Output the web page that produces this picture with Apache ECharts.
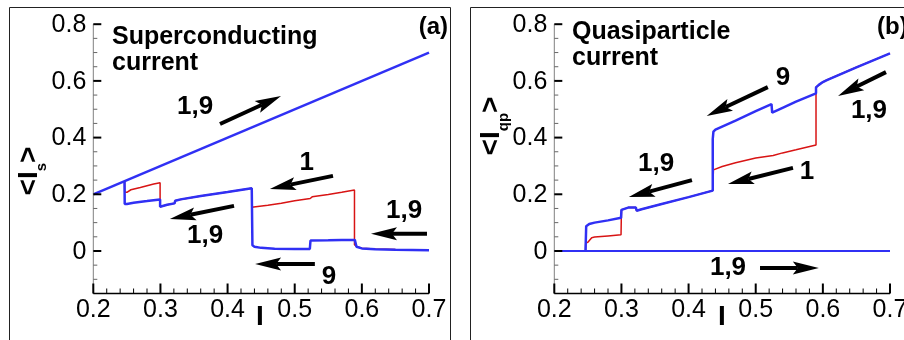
<!DOCTYPE html>
<html>
<head>
<meta charset="utf-8">
<script src="https://cdn.jsdelivr.net/npm/echarts@6/dist/echarts.min.js"></script>
<style>html,body{margin:0;padding:0;background:#fff;}#c{width:904px;height:340px;}</style>
</head>
<body>
<div id="c"></div>
<script>
// ---------- data ----------
const X_MIN = 0.2, X_MAX = 0.7, Y_MIN = -0.15, Y_MAX = 0.8;
const xTicks = [0.2, 0.3, 0.4, 0.5, 0.6, 0.7];
const yTicks = [0, 0.2, 0.4, 0.6, 0.8];
const yMinorTicks = [-0.15, -0.1, -0.05, 0.05, 0.1, 0.15, 0.25, 0.3, 0.35, 0.45, 0.5, 0.55, 0.65, 0.7, 0.75];
const xMinorTicks = [0.22, 0.24, 0.26, 0.28, 0.32, 0.34, 0.36, 0.38, 0.42, 0.44, 0.46, 0.48, 0.52, 0.54, 0.56, 0.58, 0.62, 0.64, 0.66, 0.68];

// Panel (a): superconducting current
const aUp19 = [[0.2, 0.2], [0.7, 0.7]];
const aDown9 = [[0.7,0.003],[0.65,0.004],[0.62,0.006],[0.60,0.009],[0.592,0.015],[0.5895,0.022],[0.5895,0.039],[0.57,0.039],[0.55,0.038],[0.5235,0.037],[0.5225,0.007],[0.50,0.007],[0.47,0.008],[0.45,0.011],[0.44,0.015],[0.437,0.02],[0.436,0.221],[0.40,0.208],[0.36,0.194],[0.33,0.182],[0.322,0.177],[0.321,0.168],[0.31,0.163],[0.308,0.159],[0.2995,0.156],[0.2995,0.182],[0.28,0.176],[0.26,0.170],[0.25,0.166],[0.2468,0.166],[0.2465,0.2465]];
const aDown1 = [[0.7,0.003],[0.65,0.005],[0.62,0.007],[0.60,0.01],[0.592,0.016],[0.589,0.022],[0.589,0.215],[0.57,0.207],[0.55,0.199],[0.526,0.191],[0.523,0.185],[0.50,0.177],[0.48,0.168],[0.46,0.161],[0.445,0.157],[0.436,0.154],[0.436,0.221],[0.40,0.208],[0.36,0.194],[0.33,0.182],[0.322,0.177],[0.321,0.168],[0.31,0.163],[0.308,0.159],[0.2995,0.156],[0.2995,0.241],[0.29,0.236],[0.28,0.230],[0.27,0.224],[0.256,0.216],[0.254,0.209],[0.25,0.207],[0.2468,0.208],[0.2465,0.2465]];

// Panel (b): quasiparticle current
const bUp19 = [[0.2, 0], [0.7, 0]];
const bDown9 = [[0.7,0.697],[0.65,0.648],[0.606,0.603],[0.6,0.596],[0.594,0.586],[0.5898,0.577],[0.5898,0.556],[0.56,0.527],[0.54,0.505],[0.5245,0.488],[0.5238,0.486],[0.5235,0.518],[0.50,0.493],[0.47,0.460],[0.45,0.439],[0.44,0.428],[0.437,0.421],[0.436,0.395],[0.436,0.213],[0.40,0.190],[0.36,0.166],[0.33,0.147],[0.3227,0.142],[0.3215,0.153],[0.31,0.153],[0.30,0.145],[0.2994,0.142],[0.2994,0.117],[0.28,0.108],[0.26,0.100],[0.252,0.095],[0.2475,0.087],[0.2468,0.082],[0.2465,0]];
const bDown1 = [[0.7,0.697],[0.65,0.648],[0.606,0.603],[0.6,0.596],[0.594,0.586],[0.5898,0.577],[0.5898,0.374],[0.56,0.357],[0.54,0.346],[0.526,0.337],[0.524,0.342],[0.50,0.328],[0.47,0.311],[0.45,0.298],[0.437,0.286],[0.436,0.213],[0.40,0.190],[0.36,0.166],[0.33,0.147],[0.3227,0.142],[0.3215,0.153],[0.31,0.153],[0.30,0.145],[0.2994,0.142],[0.2994,0.057],[0.28,0.053],[0.26,0.049],[0.2557,0.047],[0.254,0.04],[0.25,0.031],[0.2468,0.027],[0.2465,0]];

// annotation arrows [x1, y1, x2 (tip), y2 (tip)] in data units
const aArrows = [[0.3887,0.448,0.4796,0.547],[0.557,0.265,0.463,0.219],[0.4096,0.159,0.314,0.113],[0.697,0.061,0.6136,0.061],[0.530,-0.046,0.441,-0.046]];
const bArrows = [[0.518,0.578,0.427,0.476],[0.694,0.631,0.6226,0.547],[0.405,0.250,0.311,0.190],[0.5555,0.293,0.4587,0.236],[0.5064,-0.06,0.594,-0.06]];
// annotation labels
const aLabelText = ['1,9','1','1,9','1,9','9'];
const aLabelPos = [[0.3515,0.508],[0.518,0.310],[0.3664,0.053],[0.6628,0.141],[0.551,-0.092]];
const bLabelText = ['9','1,9','1,9','1','1,9'];
const bLabelPos = [[0.5406,0.610],[0.6687,0.494],[0.3515,0.307],[0.5764,0.279],[0.4587,-0.06]];

// ---------- chart ----------
const FF = '"Liberation Sans", Arial, Helvetica, sans-serif';
const BLUE = '#3030f4';
const RED = '#d81414';

function xAxisCfg(gi) {
  return {
    gridIndex: gi, type: 'value', min: X_MIN, max: X_MAX, interval: 0.1,
    axisLine: { show: false, onZero: false }, axisTick: { show: false },
    splitLine: { show: false }, axisLabel: { show: false }
  };
}
function yAxisCfg(gi) {
  return {
    gridIndex: gi, type: 'value', min: Y_MIN, max: Y_MAX, interval: 0.05,
    axisLine: { show: false, onZero: false }, axisTick: { show: false },
    splitLine: { show: false }, axisLabel: { show: false }
  };
}
function fmt(v) { return Math.abs(v) < 1e-9 ? '0' : v.toFixed(1); }
// axis frame drawn through the chart's own coordinate conversion
function axisSeries(xi, yi) {
  return {
    type: 'custom', xAxisIndex: xi, yAxisIndex: yi, data: [[X_MIN, Y_MIN]], z: 20, animation: false, silent: true,
    renderItem: function (params, api) {
      const ch = [];
      const o = api.coord([X_MIN, Y_MIN]);
      const xe = api.coord([X_MAX, Y_MIN]);
      const yt = api.coord([X_MIN, Y_MAX]);
      const xl = o[0], yb = o[1];
      ch.push({ type: 'line', shape: { x1: xl, y1: yb, x2: xl, y2: yt[1] }, style: { stroke: '#808080', lineWidth: 1 } });
      yMinorTicks.forEach(function (v) {
        const p = api.coord([X_MIN, v]);
        ch.push({ type: 'line', shape: { x1: xl, y1: p[1], x2: xl + 4, y2: p[1] }, style: { stroke: '#666', lineWidth: 1 } });
      });
      yTicks.forEach(function (v) {
        const p = api.coord([X_MIN, v]);
        ch.push({ type: 'line', shape: { x1: xl, y1: p[1], x2: xl + 8, y2: p[1] }, style: { stroke: '#000', lineWidth: 2 } });
        ch.push({ type: 'text', x: xl - 7, y: p[1] + 1, style: { text: fmt(v), font: '25px ' + FF, fill: '#000', align: 'right', verticalAlign: 'middle' } });
      });
      ch.push({ type: 'line', shape: { x1: xl, y1: yb, x2: xe[0], y2: yb }, style: { stroke: '#000', lineWidth: 1.5 } });
      xMinorTicks.forEach(function (v) {
        const p = api.coord([v, Y_MIN]);
        ch.push({ type: 'line', shape: { x1: p[0], y1: yb, x2: p[0], y2: yb - 5 }, style: { stroke: '#000', lineWidth: 1 } });
      });
      xTicks.forEach(function (v) {
        const p = api.coord([v, Y_MIN]);
        ch.push({ type: 'line', shape: { x1: p[0], y1: yb, x2: p[0], y2: yb - 10 }, style: { stroke: '#000', lineWidth: 2 } });
        ch.push({ type: 'text', x: p[0], y: yb + 4, style: { text: fmt(v), font: '25px ' + FF, fill: '#000', align: 'center', verticalAlign: 'top' } });
      });
      return { type: 'group', children: ch };
    }
  };
}
function lineSeries(xi, yi, data, color, width, z) {
  return { type: 'line', xAxisIndex: xi, yAxisIndex: yi, data: data, showSymbol: false, symbol: 'none',
    lineStyle: { color: color, width: width }, z: z, animation: false };
}
function arrowSeries(xi, yi, data) {
  return {
    type: 'custom', xAxisIndex: xi, yAxisIndex: yi, data: data, z: 5, animation: false,
    renderItem: function (params, api) {
      const p1 = api.coord([api.value(0), api.value(1)]);
      const p2 = api.coord([api.value(2), api.value(3)]);
      const dx = p2[0] - p1[0], dy = p2[1] - p1[1];
      const L = Math.hypot(dx, dy), ux = dx / L, uy = dy / L, nx = -uy, ny = ux;
      const hl = 26, hw = 6.5;
      const bx = p2[0] - hl * ux, by = p2[1] - hl * uy;
      const nxp = p2[0] - (hl - 5) * ux, nyp = p2[1] - (hl - 5) * uy;
      return {
        type: 'group', children: [
          { type: 'line', shape: { x1: p1[0], y1: p1[1], x2: nxp, y2: nyp }, style: { stroke: '#000', lineWidth: 4 } },
          { type: 'polygon', shape: { points: [[p2[0], p2[1]], [bx + hw * nx, by + hw * ny], [nxp, nyp], [bx - hw * nx, by - hw * ny]] }, style: { fill: '#000' } }
        ]
      };
    }
  };
}
function labelSeries(xi, yi, pos, texts) {
  return {
    type: 'custom', xAxisIndex: xi, yAxisIndex: yi, data: pos, z: 6, animation: false,
    renderItem: function (params, api) {
      const p = api.coord([api.value(0), api.value(1)]);
      return { type: 'text', x: p[0], y: p[1], style: { text: texts[params.dataIndex], font: 'bold 26px ' + FF, fill: '#000', align: 'center', verticalAlign: 'middle' } };
    }
  };
}
function yName(x, y, sub) {
  return {
    type: 'text', x: x, y: y, rotation: Math.PI / 2, z: 10,
    style: {
      text: '{a|<I}{s|' + sub + '}{a|>}', align: 'center', verticalAlign: 'middle',
      rich: {
        a: { font: 'bold 28px ' + FF, lineHeight: 41, fill: '#000' },
        s: { font: 'bold 15px ' + FF, lineHeight: 15, verticalAlign: 'bottom', fill: '#000' }
      }
    }
  };
}
function frame(x1, y1, x2, y2) {
  return { type: 'polyline', z: 1, shape: { points: [[x1, y2], [x1, y1], [x2, y1], [x2, y2]] }, style: { fill: null, stroke: '#222', lineWidth: 1 } };
}

const chart = echarts.init(document.getElementById('c'), null, { renderer: 'canvas' });
chart.setOption({
  backgroundColor: '#fff',
  animation: false,
  grid: [
    { left: 93.3, top: 24.2, width: 335.7, height: 269.3, outerBoundsMode: 'none', containLabel: false },
    { left: 554.3, top: 24.2, width: 335.7, height: 269.3, outerBoundsMode: 'none', containLabel: false }
  ],
  xAxis: [xAxisCfg(0), xAxisCfg(1)],
  yAxis: [yAxisCfg(0), yAxisCfg(1)],
  series: [
    axisSeries(0, 0),
    lineSeries(0, 0, aDown1, RED, 1.5, 2),
    lineSeries(0, 0, aDown9, BLUE, 2.5, 3),
    lineSeries(0, 0, aUp19, BLUE, 2.5, 3),
    arrowSeries(0, 0, aArrows),
    labelSeries(0, 0, aLabelPos, aLabelText),
    axisSeries(1, 1),
    lineSeries(1, 1, bDown1, RED, 1.5, 2),
    lineSeries(1, 1, bDown9, BLUE, 2.5, 3),
    lineSeries(1, 1, bUp19, BLUE, 2, 3),
    arrowSeries(1, 1, bArrows),
    labelSeries(1, 1, bLabelPos, bLabelText)
  ],
  graphic: [
    frame(9.5, 7.5, 450.5, 345),
    frame(470.5, 7.5, 910, 345),
    { type: 'text', x: 112, y: 24, style: { text: 'Superconducting\ncurrent', font: 'bold 25px ' + FF, lineHeight: 26, fill: '#000', align: 'left', verticalAlign: 'top' } },
    { type: 'text', x: 572, y: 19, style: { text: 'Quasiparticle\ncurrent', font: 'bold 25px ' + FF, lineHeight: 26, fill: '#000', align: 'left', verticalAlign: 'top' } },
    { type: 'text', x: 448, y: 15, style: { text: '(a)', font: 'bold 24px ' + FF, lineHeight: 24, fill: '#000', align: 'right', verticalAlign: 'top' } },
    { type: 'text', x: 877, y: 15, style: { text: '(b)', font: 'bold 24px ' + FF, lineHeight: 24, fill: '#000', align: 'left', verticalAlign: 'top' } },
    { type: 'text', x: 260, y: 317, style: { text: 'I', font: 'bold 28px ' + FF, fill: '#000', align: 'center', verticalAlign: 'middle' } },
    { type: 'text', x: 722, y: 317, style: { text: 'I', font: 'bold 28px ' + FF, fill: '#000', align: 'center', verticalAlign: 'middle' } },
    yName(29, 171, 's'),
    yName(491, 126, 'qp')
  ]
});
</script>
</body>
</html>
